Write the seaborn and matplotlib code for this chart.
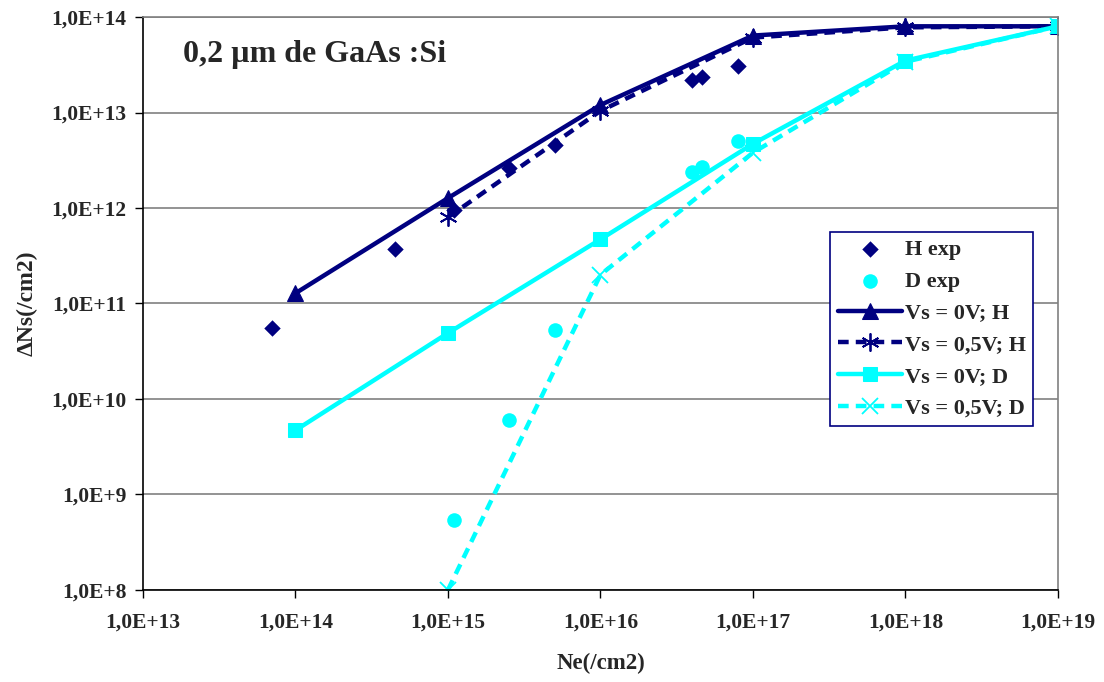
import numpy as np
import pandas as pd
import matplotlib
matplotlib.use("Agg")
import matplotlib.pyplot as plt
from matplotlib.ticker import FixedLocator, FuncFormatter, NullLocator
import seaborn as sns

# experimental points
h_exp_ne = [7e13, 4.5e14, 1.1e15, 2.5e15, 5e15, 4e16, 4.6e16, 8e16]
h_exp_dns = [5.5e10, 3.7e11, 9.5e11, 2.6e12, 4.6e12, 2.2e13, 2.35e13, 3.1e13]
d_exp_ne = [1.1e15, 2.5e15, 5e15, 4e16, 4.6e16, 8e16]
d_exp_dns = [5.4e8, 6e9, 5.3e10, 2.4e12, 2.7e12, 5e12]

# simulations
ne_0v = [1e14, 1e15, 1e16, 1e17, 1e18, 1e19]
ne_05v = [1e15, 1e16, 1e17, 1e18, 1e19]
h_0v = [1.28e11, 1.27e12, 1.2e13, 6.4e13, 8e13, 8e13]
h_05v = [8e11, 1.04e13, 6.1e13, 7.8e13, 8e13]
d_0v = [4.7e9, 4.9e10, 4.7e11, 4.7e12, 3.5e13, 8e13]
d_05v = [1e8, 2e11, 3.8e12, 3.4e13, 8e13]

navy = "#000080"
cyan = "#00FFFF"

sns.set_style("white")
plt.rcParams["font.family"] = ["Liberation Serif", "DejaVu Serif"]
plt.rcParams["font.weight"] = "bold"

fig = plt.figure(figsize=(11.04, 6.82), dpi=100)
ax = fig.add_axes([0.1295, 0.135, 0.8288, 0.840])

dash = (0, (2.4, 1.6))

sns.lineplot(x=ne_0v, y=h_0v, ax=ax, color=navy, lw=3.2, marker="^", ms=11,
             mec=navy, sort=False, estimator=None, label="Vs = 0V; H")
sns.lineplot(x=ne_05v, y=h_05v, ax=ax, color=navy, lw=3.2, marker=(6, 2, 0), ms=13,
             mew=1.3, mec=navy, linestyle=dash, sort=False, estimator=None,
             label="Vs = 0,5V; H")
sns.lineplot(x=ne_0v, y=d_0v, ax=ax, color=cyan, lw=3.2, marker="s", ms=10,
             mec=cyan, sort=False, estimator=None, label="Vs = 0V; D")
sns.lineplot(x=ne_05v, y=d_05v, ax=ax, color=cyan, lw=3.2, marker="x", ms=11,
             mew=1.3, mec=cyan, linestyle=dash, sort=False, estimator=None,
             label="Vs = 0,5V; D")
sns.scatterplot(x=h_exp_ne, y=h_exp_dns, ax=ax, color=navy, marker="D", s=70,
                edgecolor=navy, linewidth=0, label="H exp", zorder=5)
sns.scatterplot(x=d_exp_ne, y=d_exp_dns, ax=ax, color=cyan, marker="o", s=110,
                edgecolor=cyan, linewidth=0, label="D exp", zorder=5)

ax.set_xscale("log")
ax.set_yscale("log")
ax.set_xlim(1e13, 1e19)
ax.set_ylim(1e8, 1e14)

fmt = FuncFormatter(lambda v, p: "1,0E+%d" % round(np.log10(v)))
ax.xaxis.set_major_locator(FixedLocator([10.0 ** k for k in range(13, 20)]))
ax.yaxis.set_major_locator(FixedLocator([10.0 ** k for k in range(8, 15)]))
ax.xaxis.set_minor_locator(NullLocator())
ax.yaxis.set_minor_locator(NullLocator())
ax.xaxis.set_major_formatter(fmt)
ax.yaxis.set_major_formatter(fmt)
ax.tick_params(axis="both", labelsize=15.5, direction="out", length=6, width=1,
               color="black", bottom=True, left=True)
for lab in ax.get_xticklabels() + ax.get_yticklabels():
    lab.set_fontweight("bold")
ax.tick_params(axis="x", pad=10)
ax.tick_params(axis="y", pad=6)

ax.grid(axis="y", color="#808080", lw=1.2)
ax.grid(axis="x", visible=False)
for s in ["top", "right"]:
    ax.spines[s].set_color("#808080")
    ax.spines[s].set_linewidth(1.2)
for s in ["left", "bottom"]:
    ax.spines[s].set_color("black")
    ax.spines[s].set_linewidth(1.2)

ax.set_xlabel("Ne(/cm2)", fontsize=16.5, fontweight="bold", labelpad=15)
ax.set_ylabel("\u0394Ns(/cm2)", fontsize=17, fontweight="bold", labelpad=10)

# label inside the plot
ax.text(0.044, 0.935, "0,2 \u00b5m de GaAs :Si", transform=ax.transAxes,
        fontsize=23, fontweight="bold", va="center", ha="left")

handles, labels = ax.get_legend_handles_labels()
order = ["H exp", "D exp", "Vs = 0V; H", "Vs = 0,5V; H", "Vs = 0V; D", "Vs = 0,5V; D"]
hmap = dict(zip(labels, handles))
leg = ax.legend([hmap[k] for k in order], order, loc="upper left",
                bbox_to_anchor=(0.751, 0.625), frameon=True, fancybox=False,
                framealpha=1, edgecolor=navy, fontsize=16, handlelength=2.9,
                handletextpad=0.1, borderpad=0.35, labelspacing=0.5,
                borderaxespad=0)
leg.get_frame().set_linewidth(1.2)
for t in leg.get_texts():
    t.set_fontweight("bold")

fig.savefig("out.png", dpi=100)
